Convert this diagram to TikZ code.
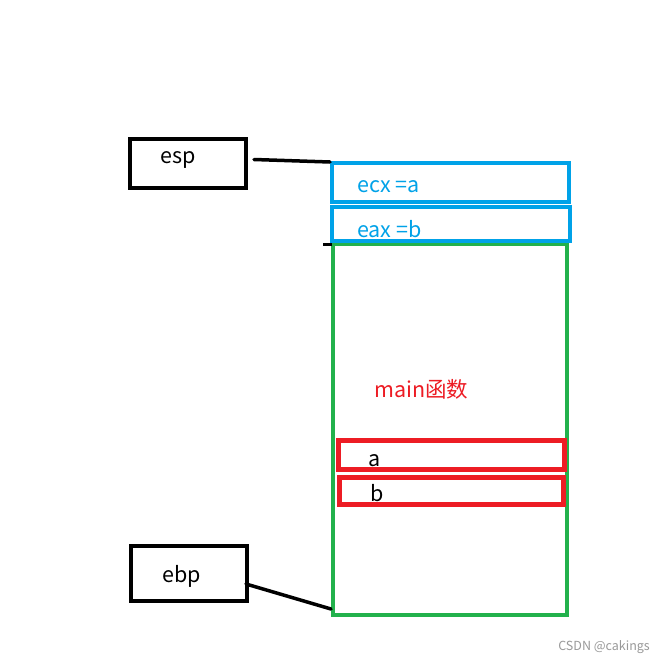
\documentclass[tikz,border=0pt]{standalone}
\usepackage{fontspec}
\newfontfamily\cjk{Noto Sans CJK SC}
\definecolor{pblue}{RGB}{0,162,232}
\definecolor{pgreen}{RGB}{34,177,76}
\definecolor{pred}{RGB}{237,28,36}
\tikzset{
  box/.style={draw, rectangle, inner sep=0pt, line width=#1},
  lbl/.style={inner sep=0pt, anchor=west, font=\cjk\fontsize{21.5}{26}\selectfont},
  wire/.style={draw, line width=3.5pt, line cap=round}
}
\begin{document}
\begin{tikzpicture}[x=1pt,y=-1pt]
\useasboundingbox[fill=white] (0,0) rectangle (665,664);
% esp and ebp boxes
\node[box=4pt, minimum width=116pt, minimum height=49pt] (esp) at (188,163.5) {};
\node[lbl] (esptxt) at (160,160) {esp};
\node[box=4pt, minimum width=116pt, minimum height=55pt] (ebp) at (189,573.5) {};
\node[lbl] (ebptxt) at (162,576) {ebp};
% green frame
\node[box=4pt, draw=pgreen, minimum width=234pt, minimum height=371pt] (frame) at (450,429) {};
% blue boxes
\node[box=4pt, draw=pblue, minimum width=237pt, minimum height=39pt] (ecx) at (450.5,182.5) {};
\node[lbl, text=pblue] (ecxtxt) at (357,187) {ecx =a};
\node[box=4pt, draw=pblue, minimum width=238pt, minimum height=34pt] (eax) at (451,224) {};
\node[lbl, text=pblue] (eaxtxt) at (357,229) {eax =b};
% main
\node[lbl, text=pred] (maintxt) at (374,389) {main函数};
% red boxes
\node[box=5pt, draw=pred, minimum width=226pt, minimum height=29pt] (a) at (451,454.5) {};
\node[lbl] (atxt) at (368,461) {a};
\node[box=5pt, draw=pred, minimum width=224pt, minimum height=27pt] (b) at (451,490.5) {};
\node[lbl] (btxt) at (370,493) {b};
% connectors
\coordinate (espend) at (330,162);
\coordinate (espstart) at (254,159.5);
\draw[wire] (espstart) -- (espend);
\coordinate (ebpstart) at (246,584);
\coordinate (ebpend) at (331,609);
\draw[wire] (ebpstart) -- (ebpend);
\coordinate (tickl) at (323,244);
\coordinate (tickr) at (332,244);
\draw[line width=3pt] (tickl) -- (tickr);
% watermark
\node[inner sep=0pt, anchor=east, text=black!40, font=\cjk\fontsize{12.5}{15}\selectfont] (wm) at (650,647) {CSDN @cakings};
\end{tikzpicture}
\end{document}
